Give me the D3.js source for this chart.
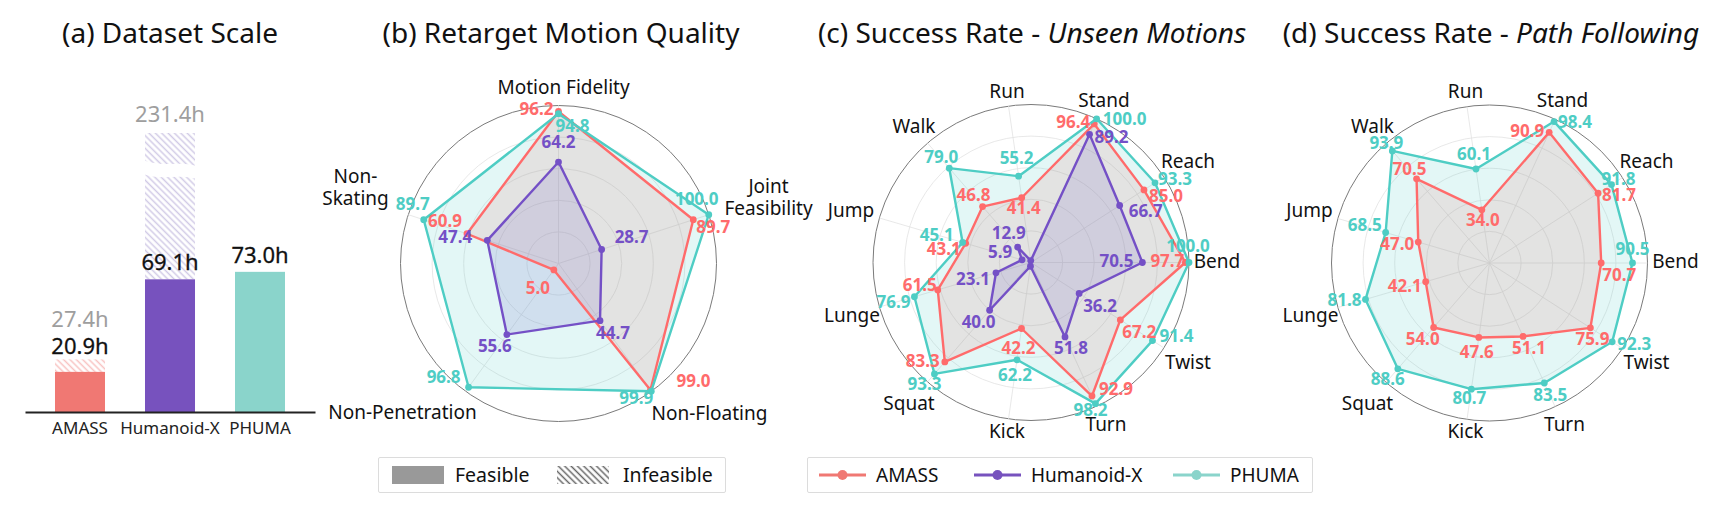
<!DOCTYPE html>
<html><head><meta charset="utf-8">
<script src="https://cdn.jsdelivr.net/npm/d3@7"></script>
<style>
body{margin:0;background:#fff;}
svg{display:block;}
text{font-family:"Noto Sans","Open Sans",sans-serif;}
</style>
</head><body>
<svg id="chart" width="1718" height="512"></svg>
<script>
// ---------------- DATA ----------------
// (a) Dataset scale
const datasets = ["AMASS", "Humanoid-X", "PHUMA"];
const feasibleHours = [20.9, 69.1, 73.0];
const totalHours = [27.4, 231.4, null];

// (b) Retarget motion quality
const qualityAxes = ["Motion Fidelity", "Joint Feasibility", "Non-Floating", "Non-Penetration", "Non-Skating"];
const qualityAMASS = [96.2, 89.7, 99.0, 5.0, 60.9];
const qualityHumanoidX = [64.2, 28.7, 44.7, 55.6, 47.4];
const qualityPHUMA = [94.8, 100.0, 99.9, 96.8, 89.7];

// (c) / (d) success rates
const motionAxes = ["Bend", "Reach", "Stand", "Run", "Walk", "Jump", "Lunge", "Squat", "Kick", "Turn", "Twist"];
const unseenAMASS = [97.7, 85.0, 96.4, 41.4, 46.8, 43.1, 61.5, 83.3, 42.2, 92.9, 67.2];
const unseenHumanoidX = [70.5, 66.7, 89.2, 1.2, 12.9, 5.9, 23.1, 40.0, 2.4, 51.8, 36.2];
const unseenPHUMA = [100.0, 93.3, 100.0, 55.2, 79.0, 45.1, 76.9, 93.3, 62.2, 98.2, 91.4];
const pathAMASS = [70.7, 81.7, 90.9, 34.0, 70.5, 47.0, 42.1, 54.0, 47.6, 51.1, 75.9];
const pathPHUMA = [90.5, 91.8, 98.4, 60.1, 93.9, 68.5, 81.8, 88.6, 80.7, 83.5, 92.3];

const radialTicks = [20, 40, 60, 80, 100];

// ---------------- STYLE / LAYOUT ----------------
const lineColor = {"AMASS": "#FF6B6B", "Humanoid-X": "#7450C6", "PHUMA": "#4ECDC4"};
const barColor = {"AMASS": "#F07873", "Humanoid-X": "#7752BE", "PHUMA": "#8AD4CB"};

// value label offsets [dx, dy] from each point (layout only)
const offB = {
  "AMASS": [[-22,-3],[20,7],[43,-9],[-16,18],[-22,-13]],
  "Humanoid-X": [[0,-20],[30,-13],[13,12],[-12,11],[-32,-3]],
  "PHUMA": [[14,12],[-12,-16],[-15,7],[-25,-10],[-11,-16]]
};
const offC = {
  "AMASS": [[-18,-2],[22,6],[-21,-2],[2,10],[-9,-12],[-22,6],[-18,-5],[-22,-1],[-3,19],[24,-7],[19,12]],
  "Humanoid-X": [[-26,-2],[26,5],[22,3],null,[-9,-14],[-22,-8],[-23,6],[-11,12],null,[6,11],[21,12]],
  "PHUMA": [[-1,-17],[20,-4],[28,0],[-2,-18],[-8,-11],[-26,-8],[-21,5],[-10,10],[-2,15],[-5,6],[24,-5]]
};
const offD = {
  "AMASS": [[18,12],[21,2],[-22,-1],[1,10],[-7,-10],[-21,2],[-21,4],[-11,11],[-2,14],[6,11],[2,11]],
  "PHUMA": [[0,-14],[7,-6],[21,0],[-2,-15],[-6,-8],[-21,-8],[-21,0],[-10,10],[-2,9],[6,12],[22,2]]
};
const axisLabB = [[5,-177],[210,-67],[151,149],[-156,148],[-203,-77]];
const axisLabCD = [[186,-2],[157,-102],[73,-163],[-24,-172],[-117,-137],[-180,-53],[-179,52],[-122,140],[-24,168],[75,161],[157,99]];

const svg = d3.select("#chart");
const defs = svg.append("defs");

function hatch(id, color, op) {
  const p = defs.append("pattern").attr("id", id).attr("patternUnits", "userSpaceOnUse")
    .attr("width", 4.5).attr("height", 4.5).attr("patternTransform", "rotate(45)");
  p.append("rect").attr("width", 4.5).attr("height", 4.5).attr("fill", "#fff");
  p.append("line").attr("x1", 0).attr("y1", 2.25).attr("x2", 4.5).attr("y2", 2.25)
    .attr("stroke", color).attr("stroke-opacity", op).attr("stroke-width", 1.5);
}
hatch("h-AMASS", "#F07873", 0.45);
hatch("h-Humanoid-X", "#9A8AC8", 0.45);
hatch("h-legend", "#555", 0.9);

// ---------------- TITLES ----------------
const titleY = 43;
function title(x, parts) {
  const t = svg.append("text").attr("x", x).attr("y", titleY).attr("text-anchor", "middle")
    .attr("font-size", 28).attr("fill", "#111");
  parts.forEach(p => t.append("tspan").attr("font-style", p[1] ? "italic" : "normal").text(p[0]));
}
title(170, [["(a) Dataset Scale", false]]);
title(561, [["(b) Retarget Motion Quality", false]]);
title(1032, [["(c) Success Rate - ", false], ["Unseen Motions", true]]);
title(1491, [["(d) Success Rate - ", false], ["Path Following", true]]);

// ---------------- (a) BAR CHART ----------------
(function () {
  const base = 412;
  const x = d3.scaleBand().domain(datasets).range([25, 315]).paddingInner(0.4444).paddingOuter(0.3333);
  const y = d3.scaleLinear().domain([0, 110, 231.4]).range([base, base - 211.2, 133]);
  const g = svg.append("g");
  datasets.forEach((d, i) => {
    const x0 = x(d), w = x.bandwidth();
    if (totalHours[i] != null) {
      g.append("rect").attr("x", x0).attr("width", w).attr("y", y(totalHours[i]))
        .attr("height", y(feasibleHours[i]) - y(totalHours[i])).attr("fill", `url(#h-${d})`);
    }
    g.append("rect").attr("x", x0).attr("width", w).attr("y", y(feasibleHours[i]))
      .attr("height", base - y(feasibleHours[i])).attr("fill", barColor[d]);
    let fy, ty;
    if (totalHours[i] != null && y(feasibleHours[i]) - y(totalHours[i]) < 30) {
      fy = y(totalHours[i]) - 5; ty = fy - 27;
    } else {
      fy = y(feasibleHours[i]) - 9; if (totalHours[i] != null) ty = y(totalHours[i]) - 11;
    }
    g.append("text").attr("x", x0 + w / 2).attr("y", fy).attr("text-anchor", "middle")
      .attr("font-size", 22).attr("fill", "#111").attr("stroke", "#111").attr("stroke-width", 0.3)
      .text(d3.format(".1f")(feasibleHours[i]) + "h");
    if (totalHours[i] != null) {
      g.append("text").attr("x", x0 + w / 2).attr("y", ty).attr("text-anchor", "middle")
        .attr("font-size", 22).attr("fill", "#9E9E9E").text(d3.format(".1f")(totalHours[i]) + "h");
    }
  });
  // axis break on Humanoid-X
  const bx = x("Humanoid-X") - 2, bw = x.bandwidth() + 4;
  const by = y(165);
  g.append("path").attr("fill", "#fff")
    .attr("d", `M${bx},${by - 10} C${bx + bw * 0.35},${by - 2} ${bx + bw * 0.65},${by - 10} ${bx + bw},${by - 4}
      L${bx + bw},${by + 9} C${bx + bw * 0.65},${by + 3} ${bx + bw * 0.35},${by + 11} ${bx},${by + 4} Z`);
  const ax = svg.append("g").attr("transform", `translate(0,${base})`)
    .call(d3.axisBottom(x).tickSize(0).tickPadding(10));
  ax.select(".domain").attr("stroke", "#222").attr("stroke-width", 2);
  ax.selectAll("text").attr("font-size", 17).attr("fill", "#222").attr("font-family", "Noto Sans");
})();

// ---------------- RADAR ----------------
function radar(cfg) {
  const g = svg.append("g").attr("transform", `translate(${cfg.cx},${cfg.cy})`);
  const n = cfg.axes.length;
  const r = d3.scaleLinear().domain([0, 100]).range([0, cfg.R]);
  const ang = d3.scaleLinear().domain([0, n]).range([cfg.start, cfg.start + cfg.dir * 2 * Math.PI]);
  const pt = (v, i) => [r(v) * Math.sin(ang(i)), -r(v) * Math.cos(ang(i))];

  g.selectAll("circle.ring").data(radialTicks).join("circle").attr("class", "ring")
    .attr("r", d => r(d)).attr("fill", "none")
    .attr("stroke", d => d === 100 ? "#7a7a7a" : "#e2e2e2").attr("stroke-width", d => d === 100 ? 1 : 0.8);
  g.selectAll("line.spoke").data(cfg.axes).join("line").attr("class", "spoke")
    .attr("x1", 0).attr("y1", 0)
    .attr("x2", (d, i) => pt(100, i)[0]).attr("y2", (d, i) => pt(100, i)[1])
    .attr("stroke", "#e2e2e2").attr("stroke-width", 0.8);

  const line = d3.lineRadial().angle((d, i) => ang(i)).radius(d => r(d)).curve(d3.curveLinearClosed);
  cfg.series.forEach(s => {
    g.append("path").attr("d", line(s.values)).attr("fill", lineColor[s.name]).attr("fill-opacity", 0.16);
  });
  cfg.series.forEach(s => {
    g.append("path").attr("d", line(s.values)).attr("fill", "none")
      .attr("stroke", lineColor[s.name]).attr("stroke-width", 2.4).attr("stroke-linejoin", "round");
    g.selectAll(null).data(s.values).join("circle")
      .attr("cx", (d, i) => pt(d, i)[0]).attr("cy", (d, i) => pt(d, i)[1])
      .attr("r", 3.4).attr("fill", lineColor[s.name]);
  });
  cfg.series.forEach(s => {
    s.values.forEach((v, i) => {
      const o = s.offsets[i];
      if (!o) return;
      const p = pt(v, i);
      g.append("text").attr("x", p[0] + o[0]).attr("y", p[1] + o[1] + 6.1)
        .attr("text-anchor", "middle").attr("font-size", 17).attr("font-weight", 700)
        .attr("fill", lineColor[s.name]).text(d3.format(".1f")(v));
    });
  });
  cfg.axes.forEach((a, i) => {
    const lines = cfg.multiline && cfg.multiline[a] ? cfg.multiline[a] : [a];
    const o = cfg.labelOffsets[i];
    const t = g.append("text").attr("text-anchor", "middle").attr("font-size", 19).attr("fill", "#111");
    lines.forEach((l, k) => {
      t.append("tspan").attr("x", o[0])
        .attr("y", o[1] + 7 + (k - (lines.length - 1) / 2) * 22).text(l);
    });
  });
}

radar({
  cx: 558.5, cy: 263.5, R: 158, axes: qualityAxes, start: 0, dir: 1,
  labelOffsets: axisLabB,
  multiline: {"Joint Feasibility": ["Joint", "Feasibility"], "Non-Skating": ["Non-", "Skating"]},
  series: [
    {name: "AMASS", values: qualityAMASS, offsets: offB["AMASS"]},
    {name: "Humanoid-X", values: qualityHumanoidX, offsets: offB["Humanoid-X"]},
    {name: "PHUMA", values: qualityPHUMA, offsets: offB["PHUMA"]}
  ]
});
radar({
  cx: 1031, cy: 262.5, R: 158, axes: motionAxes, start: Math.PI / 2, dir: -1,
  labelOffsets: axisLabCD,
  series: [
    {name: "AMASS", values: unseenAMASS, offsets: offC["AMASS"]},
    {name: "Humanoid-X", values: unseenHumanoidX, offsets: offC["Humanoid-X"]},
    {name: "PHUMA", values: unseenPHUMA, offsets: offC["PHUMA"]}
  ]
});
radar({
  cx: 1489.5, cy: 263, R: 158, axes: motionAxes, start: Math.PI / 2, dir: -1,
  labelOffsets: axisLabCD,
  series: [
    {name: "AMASS", values: pathAMASS, offsets: offD["AMASS"]},
    {name: "PHUMA", values: pathPHUMA, offsets: offD["PHUMA"]}
  ]
});

// ---------------- LEGENDS ----------------
(function () {
  const g1 = svg.append("g");
  g1.append("rect").attr("x", 378.5).attr("y", 457.5).attr("width", 347).attr("height", 35)
    .attr("fill", "#fff").attr("stroke", "#dcdcdc").attr("rx", 1.5);
  g1.append("rect").attr("x", 392).attr("y", 466).attr("width", 52).attr("height", 18).attr("fill", "#999");
  g1.append("text").attr("x", 455).attr("y", 482).attr("font-size", 19.5).attr("fill", "#111").text("Feasible");
  g1.append("rect").attr("x", 557).attr("y", 466).attr("width", 52).attr("height", 18).attr("fill", "url(#h-legend)");
  g1.append("text").attr("x", 623).attr("y", 482).attr("font-size", 19.5).attr("fill", "#111").text("Infeasible");

  const g2 = svg.append("g");
  g2.append("rect").attr("x", 807.5).attr("y", 457.5).attr("width", 505).attr("height", 35)
    .attr("fill", "#fff").attr("stroke", "#dcdcdc").attr("rx", 1.5);
  const lx = d3.scaleOrdinal().domain(datasets).range([819, 974, 1173]);
  datasets.forEach(d => {
    const x0 = lx(d);
    g2.append("line").attr("x1", x0).attr("x2", x0 + 47).attr("y1", 475).attr("y2", 475)
      .attr("stroke", barColor[d]).attr("stroke-width", 3);
    g2.append("circle").attr("cx", x0 + 23.5).attr("cy", 475).attr("r", 5).attr("fill", barColor[d]);
    g2.append("text").attr("x", x0 + 57).attr("y", 482).attr("font-size", 19).attr("fill", "#111").text(d);
  });
})();
</script>
</body></html>
